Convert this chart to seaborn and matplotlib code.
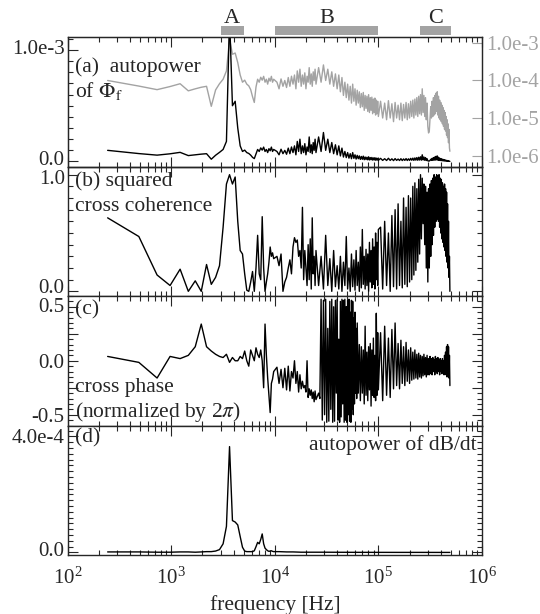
import numpy as np
import pandas as pd
import seaborn as sns
import matplotlib
matplotlib.use("Agg")
import matplotlib.pyplot as plt
from matplotlib import ticker
from matplotlib.patches import Rectangle
from matplotlib.transforms import ScaledTranslation

# FFT frequency bins [kHz]
freq_low = [0.244, 0.488, 0.732, 0.977, 1.221, 1.465, 1.709, 1.953, 2.197, 2.441,
            2.686, 2.930, 3.174, 3.418, 3.662, 3.906, 4.150, 4.395, 4.639, 4.883,
            5.127, 5.371, 5.615, 5.859, 6.104, 6.348, 6.592, 6.836, 7.080, 7.324,
            7.568, 7.813, 8.057, 8.301, 8.545, 8.789, 9.033, 9.277, 9.521, 9.766]
freq_mid = [10.5, 11, 11.5, 12, 12.5, 13, 13.5, 14, 14.5, 15,
            15.5, 16, 16.5, 17, 17.5, 18, 18.5, 19, 19.5, 20,
            20.5, 21, 21.5, 22, 22.5, 23, 23.5, 24, 24.5, 25]
freq_b = [26.5, 28, 29.5, 31, 32.5, 34, 35.5, 37, 38.5, 40,
          41.5, 43, 44.5, 46, 47.5, 49, 50.5, 52, 53.5, 55,
          56.5, 58, 59.5, 61, 62.5, 64, 65.5, 67, 68.5, 70,
          71.5, 73, 74.5, 76, 77.5, 79, 80.5, 82, 83.5, 85,
          86.5, 88, 89.5, 91, 92.5, 94, 95.5, 97, 98.5, 100]
freq_high = [105, 110, 115, 120, 125, 130, 135, 140, 145, 150,
             155, 160, 165, 170, 175, 180, 185, 190, 195, 200,
             205, 210, 215, 220, 225, 230, 235, 240, 245, 250,
             255, 260, 265, 270, 275, 280, 285, 290, 295, 300,
             305, 310, 315, 320, 325, 330, 335, 340, 345, 350,
             355, 360, 365, 370, 375, 380, 385, 390, 395, 400,
             405, 410, 415, 420, 425, 430, 435, 440, 445, 450,
             455, 460, 465, 470, 475, 480, 485, 490]
# finer bins for the phase-wrapping band of (c)
freq_c = [26.5, 27.25, 28, 28.75, 29.5, 30.25, 31, 31.75, 32.5, 33.25,
          34, 34.75, 35.5, 36.25, 37, 37.75, 38.5, 39.25, 40, 40.75,
          41.5, 42.25, 43, 43.75, 44.5, 45.25, 46, 46.75, 47.5, 48.25,
          49, 49.75, 50.5, 51.25, 52, 52.75, 53.5, 54.25, 55, 55.75,
          56.5, 57.25, 58, 58.75, 59.5, 60.25, 61, 61.75, 62.5,
          64, 65.5, 67, 68.5, 70, 71.5, 73, 74.5, 76, 77.5,
          79, 80.5, 82, 83.5, 85, 86.5, 88, 89.5, 91, 92.5,
          94, 95.5, 97, 98.5, 100]

# (a) autopower of Phi_f  [1e-5]
power_low = [10.0, 7.1, 5.7, 6.9, 8.2, 5.3, 6.0, 6.6, 7.0, 2.05,
             5.6, 8.2, 10.8, 18, 130, 50, 54, 30, 14, 9,
             10.2, 8.0, 7.2, 5.7, 3.7, 2.6, 6.7, 10.8, 9.0, 12.2,
             10.2, 12.9, 9.0, 10.8, 8.0, 11.5, 9.6, 12.9, 9.0, 10.8]
power_mid = [9, 6, 11, 7, 10, 6.5, 12, 7, 13, 8,
             14, 6, 18, 9, 20, 7, 14, 8, 16, 6,
             13, 9, 22, 8, 15, 7, 17, 10, 20, 8]
power_b = [22, 9, 26, 10, 20, 8, 17, 7, 15, 6,
           14, 5, 12, 4, 9, 3.5, 8, 3, 7, 2.5,
           8, 2.8, 6, 2.2, 5.5, 2.5, 5, 1.9, 4.5, 2,
           4.8, 1.6, 4, 1.8, 3.8, 1.5, 4.2, 1.4, 3.5, 1.6,
           3.6, 1.3, 3.2, 1.4, 3.4, 1.2, 3, 1.3, 2.8, 1.1]
power_high = [2.8, 1.0, 2.5, 0.9, 2.9, 1.0, 2.4, 0.8, 2.6, 1.0,
              2.2, 0.9, 2.5, 0.85, 2.3, 1.0, 2.6, 0.9, 2.4, 1.0,
              2.8, 1.1, 3.0, 1.0, 3.2, 1.2, 3.5, 1.1, 3.8, 1.3,
              4.2, 1.2, 6.0, 1.4, 4.0, 1.1, 3.5, 0.9, 2.5, 0.6,
              0.4, 0.45, 1.0, 2.0, 1.0, 2.8, 1.1, 3.5, 1.2, 4.0,
              1.3, 4.6, 1.5, 5.0, 1.2, 3.8, 1.0, 3.0, 0.9, 2.6,
              0.8, 2.2, 0.7, 1.9, 0.6, 1.6, 0.5, 1.4, 0.45, 1.1,
              0.35, 0.9, 0.3, 0.7, 0.22, 0.5, 0.16, 0.13]

# (b) squared cross coherence
coh_low = [0.63, 0.47, 0.14, 0.05, 0.19, 0.0, 0.09, 0.0, 0.23, 0.06,
           0.12, 0.22, 0.55, 0.92, 1.0, 0.92, 0.98, 0.6, 0.35, 0.32,
           0.15, 0.01, 0.0, 0.08, 0.17, 0.0, 0.2, 0.48, 0.15, 0.1,
           0.64, 0.2, 0.0, 0.08, 0.15, 0.25, 0.38, 0.3, 0.33, 0.28]
coh_mid = [0.30, 0.22, 0.32, 0.0, 0.08, 0.12, 0.2, 0.27, 0.15, 0.38,
           0.46, 0.42, 0.44, 0.3, 0.35, 0.2, 0.72, 0.1, 0.35, 0.2,
           0.05, 0.4, 0.1, 0.45, 0.02, 0.63, 0.15, 0.3, 0.05, 0.35]
coh_b = [0.05, 0.3, 0.02, 0.48, 0.05, 0.28, 0.0, 0.35, 0.04, 0.22,
         0.02, 0.3, 0.0, 0.25, 0.05, 0.47, 0.02, 0.2, 0.0, 0.32,
         0.04, 0.27, 0.01, 0.35, 0.05, 0.25, 0.0, 0.38, 0.03, 0.53,
         0.06, 0.3, 0.02, 0.36, 0.05, 0.32, 0.0, 0.42, 0.08, 0.35,
         0.03, 0.45, 0.06, 0.38, 0.02, 0.5, 0.1, 0.42, 0.05, 0.53]
coh_high = [0.55, 0.02, 0.6, 0.05, 0.5, 0.0, 0.65, 0.04, 0.7, 0.02,
            0.75, 0.05, 0.6, 0.03, 0.8, 0.06, 0.72, 0.04, 0.82, 0.08,
            0.8, 0.1, 0.9, 0.14, 0.93, 0.18, 0.88, 0.25, 0.96, 0.32,
            1.0, 0.45, 0.97, 0.58, 0.92, 0.4, 0.9, 0.2, 0.85, 0.08,
            0.88, 0.2, 0.92, 0.3, 0.95, 0.4, 0.97, 0.48, 1.0, 0.55,
            0.98, 0.6, 1.0, 0.62, 0.99, 0.6, 1.0, 0.55, 0.97, 0.5,
            0.96, 0.45, 0.93, 0.42, 0.9, 0.38, 0.92, 0.35, 0.88, 0.3,
            0.85, 0.25, 0.75, 0.2, 0.6, 0.12, 0.3, 0.0]

# (c) cross phase / 2pi
ph_low = [0.04, -0.015, -0.16, 0.04, 0.02, 0.05, 0.13, 0.34, 0.13, 0.09,
          0.06, 0.04, 0.03, 0.06, -0.015, 0.03, 0.0, 0.0, 0.04, 0.02,
          0.09, 0.0, -0.05, 0.1, 0.05, 0.0, 0.12, 0.06, 0.03, 0.1,
          0.0, -0.25, 0.34, 0.05, -0.16, -0.32, -0.48, -0.21, -0.17, -0.1]
ph_mid = [-0.06, -0.21, -0.08, -0.25, -0.07, -0.27, -0.05, -0.28, -0.1, -0.16,
          0.0, -0.21, -0.1, -0.29, -0.13, -0.26, -0.19, -0.25, -0.23, -0.29,
          0.0, -0.34, -0.26, -0.32, -0.27, -0.35, -0.29, -0.38, -0.28, -0.36]
ph_c = [-0.3, -0.35, 0.57, -0.55, 0.56, -0.5, 0.57, -0.57, 0.3, -0.56,
        0.55, -0.45, 0.57, -0.57, 0.5, -0.56, 0.56, -0.3, 0.57, -0.55,
        0.2, -0.57, 0.55, -0.52, 0.57, -0.4, 0.56, -0.57, 0.57, -0.55,
        0.5, -0.57, 0.56, -0.5, 0.57, -0.56, 0.45, -0.57, 0.56, -0.45,
        0.55, -0.5, 0.4, -0.4, 0.45, -0.3, 0.3, -0.35, 0.35,
        -0.3, 0.15, -0.37, 0.13, -0.3, 0.1, -0.4, 0.32, -0.32, 0.08,
        -0.37, 0.13, -0.27, 0.16, -0.42, 0.1, -0.32, 0.21, -0.34, 0.05,
        -0.37, 0.44, -0.32, 0.26, -0.27]
ph_high = [0.26, -0.37, 0.32, -0.32, 0.21, -0.34, 0.29, -0.26, 0.35, -0.23,
           0.16, -0.26, 0.19, -0.21, 0.13, -0.23, 0.17, -0.19, 0.1, -0.21,
           0.12, -0.18, 0.08, -0.17, 0.1, -0.16, 0.06, -0.17, 0.07, -0.15,
           0.05, -0.16, 0.04, -0.14, 0.06, -0.13, 0.03, -0.15, 0.05, -0.13,
           0.02, -0.13, 0.04, -0.12, 0.02, -0.13, 0.03, -0.1, 0.01, -0.13,
           0.04, -0.1, 0.02, -0.12, 0.03, -0.1, 0.0, -0.13, 0.02, -0.1,
           0.0, -0.12, 0.02, -0.1, 0.0, -0.13, 0.05, -0.1, 0.08, -0.13,
           0.13, -0.15, 0.15, -0.1, 0.13, -0.16, 0.05, -0.23]

# (d) autopower of dB/dt [1e-4]
dbdt_low = [0.02, 0.02, 0.01, 0.01, 0.02, 0.02, 0.01, 0.02, 0.03, 0.03,
            0.05, 0.1, 0.3, 0.9, 3.65, 1.1, 1.05, 0.95, 0.55, 0.18,
            0.05, 0.03, 0.03, 0.03, 0.03, 0.06, 0.2, 0.35, 0.3, 0.45,
            0.64, 0.3, 0.15, 0.1, 0.06, 0.04, 0.05, 0.06, 0.04, 0.03]
freq_tail = [11, 13, 15, 18, 22, 30, 40, 60, 100, 150, 250, 350, 490]
dbdt_tail = [0.03, 0.02, 0.02, 0.01, 0.01, 0.01, 0.008, 0.006, 0.005,
             0.004, 0.004, 0.003, 0.003]

# frequency bands marked above the top panel [Hz]
band_names = ["A", "B", "C"]
band_lo = [3e3, 1e4, 2.5e5]
band_hi = [5e3, 1e5, 5e5]

GREY = "#a3a3a3"
LW = 1.0

sns.set_style("ticks")
plt.rcParams["font.family"] = ["Liberation Serif", "DejaVu Serif"]
plt.rcParams["mathtext.fontset"] = "stix"
plt.rcParams["font.size"] = 15

freq = np.array(freq_low + freq_mid + freq_b + freq_high) * 1e3
spec = pd.DataFrame({
    "f": freq,
    "power": np.array(power_low + power_mid + power_b + power_high) * 1e-5,
    "coh": coh_low + coh_mid + coh_b + coh_high,
})
phase = pd.DataFrame({
    "f": np.array(freq_low + freq_mid + freq_c + freq_high) * 1e3,
    "phase": ph_low + ph_mid + ph_c + ph_high,
})
dbdt = pd.DataFrame({
    "f": np.array(freq_low + freq_tail) * 1e3,
    "p": np.array(dbdt_low + dbdt_tail) * 1e-4,
})

fig, axes = plt.subplots(4, 1, sharex=True, figsize=(5.4, 6.14), dpi=100,
                         gridspec_kw=dict(hspace=0))
fig.subplots_adjust(left=0.125, right=0.8926, top=0.9397, bottom=0.0961)
axA, axB, axC, axD = axes

axA2 = axA.twinx()
line_kw = dict(estimator=None, sort=False, lw=LW)
sns.lineplot(data=spec, x="f", y="power", ax=axA2, color=GREY, **line_kw)
sns.lineplot(data=spec, x="f", y="power", ax=axA, color="black", **line_kw)
sns.lineplot(data=spec, x="f", y="coh", ax=axB, color="black", **line_kw)
sns.lineplot(data=phase, x="f", y="phase", ax=axC, color="black", **line_kw)
sns.lineplot(data=dbdt, x="f", y="p", ax=axD, color="black", **line_kw)
axA.set_zorder(axA2.get_zorder() + 1)
axA.patch.set_visible(False)

for ax in axes:
    ax.set_xscale("log")
    ax.set_xlim(1e2, 1e6)
    ax.set_xlabel("")
    ax.set_ylabel("")
    ax.xaxis.set_major_locator(ticker.LogLocator(base=10))
    ax.xaxis.set_minor_locator(ticker.LogLocator(base=10, subs=np.arange(2, 10)))
    ax.xaxis.set_minor_formatter(ticker.NullFormatter())
    ax.tick_params(which="both", direction="in", top=True, right=True,
                   labelsize=15, width=0.8, pad=2)
    ax.tick_params(which="major", length=7)
    ax.tick_params(which="minor", length=3.5)
    for s in ax.spines.values():
        s.set_linewidth(1.0)
axD.tick_params(axis="x", which="major", pad=9)
axA.tick_params(right=False, which="both")

# (a) left, linear
axA.set_ylim(-0.045e-3, 1.116e-3)
axA.yaxis.set_major_locator(ticker.FixedLocator([0, 1e-3]))
axA.yaxis.set_major_formatter(ticker.FixedFormatter(["0.0", "1.0e-3"]))
axA.yaxis.set_minor_locator(ticker.MultipleLocator(1e-4))

# (a) right, log, grey
axA2.set_yscale("log")
axA2.set_ylim(5.1e-7, 1.44e-3)
axA2.set_ylabel("")
axA2.yaxis.set_major_locator(ticker.FixedLocator([1e-6, 1e-5, 1e-4, 1e-3]))
axA2.yaxis.set_major_formatter(ticker.FixedFormatter(["1.0e-6", "1.0e-5", "1.0e-4", "1.0e-3"]))
axA2.yaxis.set_minor_locator(ticker.LogLocator(base=10, subs=np.arange(2, 10)))
axA2.yaxis.set_minor_formatter(ticker.NullFormatter())
axA2.tick_params(axis="y", which="both", direction="in", colors=GREY,
                 labelsize=15, pad=3, width=0.8)
axA2.tick_params(axis="y", which="major", length=7)
axA2.tick_params(axis="y", which="minor", length=3.5)
axA2.spines["right"].set_color(GREY)

# (b)
axB.set_ylim(-0.04, 1.07)
axB.yaxis.set_major_locator(ticker.FixedLocator([0, 1]))
axB.yaxis.set_major_formatter(ticker.FixedFormatter(["0.0", "1.0"]))
axB.yaxis.set_minor_locator(ticker.MultipleLocator(0.1))

# (c)
axC.set_ylim(-0.6, 0.6)
axC.yaxis.set_major_locator(ticker.FixedLocator([-0.5, -0.25, 0, 0.25, 0.5]))
axC.yaxis.set_major_formatter(ticker.FixedFormatter(["-0.5", "", "0.0", "", "0.5"]))
axC.yaxis.set_minor_locator(ticker.MultipleLocator(0.05))

# (d)
axD.set_ylim(-0.086e-4, 4.378e-4)
axD.yaxis.set_major_locator(ticker.FixedLocator([0, 4e-4]))
axD.yaxis.set_major_formatter(ticker.FixedFormatter(["0.0", "4.0e-4"]))
axD.yaxis.set_minor_locator(ticker.MultipleLocator(0.2e-4))

# band bars above panel (a)
trans = axA.get_xaxis_transform()
for name, lo, hi in zip(band_names, band_lo, band_hi):
    axA.add_patch(Rectangle((lo, 1.015), hi - lo, 0.07, transform=trans,
                            color=GREY, lw=0, clip_on=False))
    axA.text(np.sqrt(lo * hi), 1.108, name, transform=trans, ha="center",
             va="baseline", fontsize=16)

# panel annotations
kw = dict(ha="left", va="baseline", fontsize=15.5)
axA.text(0.018, 0.73, "(a)  autopower", transform=axA.transAxes, **kw)
axA.text(0.018, 0.533, r"of $\Phi_\mathrm{f}$", transform=axA.transAxes, **kw)
axB.text(0.018, 0.853, "(b) squared", transform=axB.transAxes, **kw)
axB.text(0.018, 0.653, "cross coherence", transform=axB.transAxes, **kw)
axC.text(0.018, 0.86, "(c)", transform=axC.transAxes, **kw)
axC.text(0.018, 0.258, "cross phase", transform=axC.transAxes, **kw)
axC.text(0.018, 0.064, r"(normalized by 2$\pi$)", transform=axC.transAxes, **kw)
axD.text(0.018, 0.87, "(d)", transform=axD.transAxes, **kw)
axD.text(0.987, 0.81, "autopower of dB/dt", transform=axD.transAxes,
         ha="right", va="baseline", fontsize=15.5)

fig.text(0.509, 0.0147, "frequency [Hz]", ha="center", va="center", fontsize=15.5)


# IDL-style label placement: labels sit a little inside the panel ends
def nudge_ylabels(ax, shifts_px):
    for lab, dy in zip(ax.yaxis.get_ticklabels(), shifts_px):
        lab.set_transform(lab.get_transform()
                          + ScaledTranslation(0, -dy / fig.dpi, fig.dpi_scale_trans))


nudge_ylabels(axA, [-3, -3])
nudge_ylabels(axB, [-5, 2])
nudge_ylabels(axC, [0, 0, 0, 0, -1.5])
nudge_ylabels(axD, [-3, 0])

fig.savefig("out.png", dpi=100)
